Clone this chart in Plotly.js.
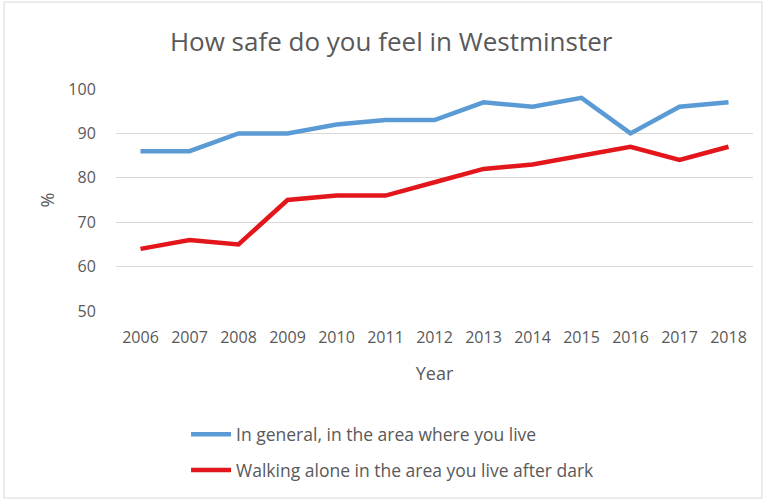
<!DOCTYPE html>
<html>
<head>
<meta charset="utf-8">
<script src="https://cdn.plot.ly/plotly-3.0.1.min.js"></script>
<style>html,body{margin:0;padding:0;background:#fff;}#chart{width:767px;height:501px;}</style>
</head>
<body>
<div id="chart"></div>
<script>
const years = ['2006','2007','2008','2009','2010','2011','2012','2013','2014','2015','2016','2017','2018'];
const generalValues = [86, 86, 90, 90, 92, 93, 93, 97, 96, 98, 90, 96, 97];
const afterDarkValues = [64, 66, 65, 75, 76, 76, 79, 82, 83, 85, 87, 84, 87];
const seriesNames = ['In general, in the area where you live', 'Walking alone in the area you live after dark'];
const yTicks = [50, 60, 70, 80, 90, 100];

const font = 'Open Sans, Liberation Sans, sans-serif';
const grey = '#595959';

const traces = [
  {x: years, y: generalValues, name: seriesNames[0], legendgroup: 'a', type: 'scatter', mode: 'lines',
   line: {color: '#5B9BD5', width: 4.5}},
  {x: years, y: afterDarkValues, name: seriesNames[1], legendgroup: 'b', type: 'scatter', mode: 'lines',
   line: {color: '#E3161B', width: 4.5}}
];

const layout = {
  width: 767, height: 501,
  margin: {l: 116, r: 14, t: 89, b: 190},
  paper_bgcolor: '#fff', plot_bgcolor: '#fff',
  font: {family: font, color: grey, size: 16},
  title: {text: 'How safe do you feel in Westminster', font: {size: 26, color: grey, family: font},
          x: 0.51, xanchor: 'center', y: 0.917, yanchor: 'middle'},
  xaxis: {type: 'category', range: [-0.5, 12.5], showgrid: false, zeroline: false,
          showline: false, ticks: 'outside', ticklen: 12, tickcolor: 'rgba(0,0,0,0)',
          tickfont: {size: 16, color: grey},
          title: {text: 'Year', font: {size: 18, color: grey}, standoff: 20}},
  yaxis: {range: [50, 100], tickvals: yTicks, showgrid: true, gridcolor: '#D9D9D9', gridwidth: 1,
          zeroline: false, showline: false, ticks: 'outside', ticklen: 16, tickcolor: 'rgba(0,0,0,0)',
          tickfont: {size: 16, color: grey},
          title: {text: '%', font: {size: 18, color: grey}, standoff: 9}},
  showlegend: true,
  legend: {x: 0.11, xanchor: 'left', y: -0.475, yanchor: 'top', orientation: 'v',
           font: {size: 17.5, color: grey}, tracegroupgap: 10, itemwidth: 40, bgcolor: 'rgba(0,0,0,0)'},
  shapes: [
    {type: 'rect', xref: 'paper', yref: 'paper',
     x0: (4 - 116) / 637, x1: (762 - 116) / 637, y0: (311 - 498) / 222, y1: (311 - 2) / 222,
     line: {color: '#D9D9D9', width: 1}, fillcolor: 'rgba(0,0,0,0)', layer: 'below'}
  ]
};

Plotly.newPlot('chart', traces, layout, {displayModeBar: false, staticPlot: true});
</script>
</body>
</html>
